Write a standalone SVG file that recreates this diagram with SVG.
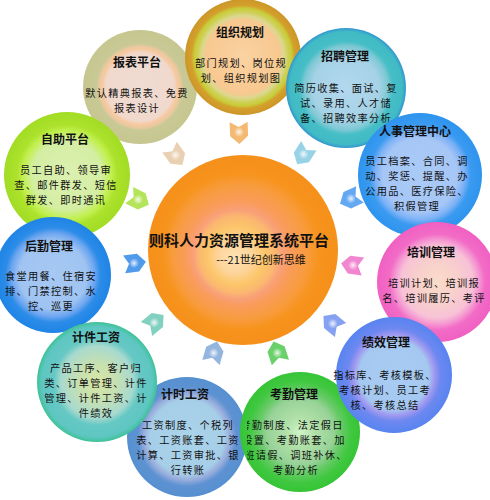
<svg xmlns="http://www.w3.org/2000/svg" width="490" height="500" viewBox="0 0 490 500">
<style>
text{font-family:"Noto Sans CJK SC","Noto Sans",sans-serif;fill:#111;text-anchor:middle}
.t{font-size:12px;font-weight:bold}
.b{font-size:10.2px;letter-spacing:1.3px}
.h{font-size:15px;font-weight:bold}
.s{font-size:11px}
.arr{opacity:0.85}
</style>
<defs>
<radialGradient id="gBB"><stop offset="0" stop-color="#F0DCD4"/><stop offset="0.6" stop-color="#F0D8CC"/><stop offset="0.66" stop-color="#F7C9A0"/><stop offset="0.72" stop-color="#E8C89E"/><stop offset="0.76" stop-color="#C9C996"/><stop offset="1" stop-color="#C6C690"/></radialGradient>
<radialGradient id="gZZ"><stop offset="0" stop-color="#FAD2A2"/><stop offset="0.64" stop-color="#F8C890"/><stop offset="0.71" stop-color="#DCD890"/><stop offset="0.78" stop-color="#CFD058"/><stop offset="0.84" stop-color="#C8CC38"/><stop offset="0.89" stop-color="#D4A02C"/><stop offset="1" stop-color="#CC9628"/></radialGradient>
<radialGradient id="gZP"><stop offset="0" stop-color="#B2D8EE"/><stop offset="0.55" stop-color="#A6D2E6"/><stop offset="0.7" stop-color="#7CC8D4"/><stop offset="0.78" stop-color="#46BEC6"/><stop offset="0.94" stop-color="#40BAC4"/><stop offset="1" stop-color="#3496D0"/></radialGradient>
<radialGradient id="gZZP"><stop offset="0" stop-color="#DCF0B0"/><stop offset="0.55" stop-color="#D4EEA4"/><stop offset="0.7" stop-color="#C2F050"/><stop offset="0.8" stop-color="#ACE22C"/><stop offset="1" stop-color="#A2DC24"/></radialGradient>
<radialGradient id="gRS"><stop offset="0" stop-color="#AACAF6"/><stop offset="0.6" stop-color="#A6C6F6"/><stop offset="0.72" stop-color="#7EB2F6"/><stop offset="0.82" stop-color="#3A9AF0"/><stop offset="1" stop-color="#2E94EE"/></radialGradient>
<radialGradient id="gHQ"><stop offset="0" stop-color="#A6C8F2"/><stop offset="0.58" stop-color="#A0C4F2"/><stop offset="0.72" stop-color="#6EA6F0"/><stop offset="0.82" stop-color="#2C8CE8"/><stop offset="1" stop-color="#1E84E6"/></radialGradient>
<radialGradient id="gPX"><stop offset="0" stop-color="#FADCC8"/><stop offset="0.35" stop-color="#F8CFCC"/><stop offset="0.6" stop-color="#F7C2D6"/><stop offset="0.7" stop-color="#F59AD2"/><stop offset="0.8" stop-color="#F26CC6"/><stop offset="1" stop-color="#F060C2"/></radialGradient>
<radialGradient id="gJJ"><stop offset="0" stop-color="#D8E6A6"/><stop offset="0.3" stop-color="#C8E0B0"/><stop offset="0.6" stop-color="#A8DACE"/><stop offset="0.72" stop-color="#66C8C4"/><stop offset="0.92" stop-color="#5EC6C2"/><stop offset="1" stop-color="#3EC296"/></radialGradient>
<radialGradient id="gJX"><stop offset="0" stop-color="#A8CCF2"/><stop offset="0.6" stop-color="#A4C8F0"/><stop offset="0.7" stop-color="#A098F0"/><stop offset="0.8" stop-color="#6E88F0"/><stop offset="1" stop-color="#5884F0"/></radialGradient>
<radialGradient id="gJS"><stop offset="0" stop-color="#AAD4EA"/><stop offset="0.62" stop-color="#A6CEE8"/><stop offset="0.72" stop-color="#98ACDC"/><stop offset="0.82" stop-color="#5E92D2"/><stop offset="1" stop-color="#5690D0"/></radialGradient>
<radialGradient id="gKQ"><stop offset="0" stop-color="#D0F4C8"/><stop offset="0.25" stop-color="#B0E0A8"/><stop offset="0.55" stop-color="#98D298"/><stop offset="0.7" stop-color="#64CA64"/><stop offset="0.85" stop-color="#40C840"/><stop offset="1" stop-color="#36C436"/></radialGradient>
<radialGradient id="gC" gradientUnits="userSpaceOnUse" cx="243" cy="250" r="95" fx="233" fy="258"><stop offset="0" stop-color="#FDE2B4"/><stop offset="0.18" stop-color="#FDD49A"/><stop offset="0.3" stop-color="#FCC66A"/><stop offset="0.4" stop-color="#FBB870"/><stop offset="0.47" stop-color="#F9A078"/><stop offset="0.55" stop-color="#F99C5C"/><stop offset="0.7" stop-color="#F89C40"/><stop offset="0.82" stop-color="#F7941E"/><stop offset="1" stop-color="#F5901A"/></radialGradient>
<radialGradient id="hl"><stop offset="0" stop-color="#fff" stop-opacity="0.85"/><stop offset="1" stop-color="#fff" stop-opacity="0"/></radialGradient>
<path id="ap" d="M-11,-9 L3,-9 L11,0 L3,9 L-11,9 L-6,0 Z"/>
<clipPath id="ckq"><rect x="247" y="370" width="120" height="130"/></clipPath>
</defs>
<rect width="490" height="500" fill="#fff"/>

<g id="baobiao">
<circle cx="140" cy="87" r="57" fill="url(#gBB)"/>
<text class="t" x="137" y="67">报表平台</text>
<text class="b" x="137" y="97">默认精典报表、免费</text>
<text class="b" x="137" y="112">报表设计</text>
</g>
<g id="zuzhi">
<circle cx="243" cy="57" r="58" fill="url(#gZZ)"/>
<text class="t" x="240" y="37">组织规划</text>
<text class="b" x="241" y="67">部门规划、岗位规</text>
<text class="b" x="241" y="82">划、组织规划图</text>
</g>
<g id="zhaopin">
<circle cx="346" cy="88" r="60" fill="url(#gZP)"/>
<text class="t" x="345" y="61">招聘管理</text>
<text class="b" x="346" y="92">简历收集、面试、复</text>
<text class="b" x="346" y="107">试、录用、人才储</text>
<text class="b" x="346" y="122">备、招聘效率分析</text>
</g>
<g id="renshi">
<circle cx="420" cy="175" r="62" fill="url(#gRS)"/>
<text class="t" x="415" y="136">人事管理中心</text>
<text class="b" x="417" y="165">员工档案、合同、调</text>
<text class="b" x="417" y="180">动、奖惩、提醒、办</text>
<text class="b" x="417" y="195">公用品、医疗保险、</text>
<text class="b" x="417" y="210">积假管理</text>
</g>
<g id="zizhu">
<circle cx="67" cy="175" r="63" fill="url(#gZZP)"/>
<text class="t" x="65" y="144">自助平台</text>
<text class="b" x="66" y="174">员工自助、领导审</text>
<text class="b" x="66" y="189">查、邮件群发、短信</text>
<text class="b" x="66" y="204">群发、即时通讯</text>
</g>
<g id="houqin">
<circle cx="53" cy="275" r="58" fill="url(#gHQ)"/>
<text class="t" x="49" y="251">后勤管理</text>
<text class="b" x="51" y="280">食堂用餐、住宿安</text>
<text class="b" x="51" y="295">排、门禁控制、水</text>
<text class="b" x="51" y="310">控、巡更</text>
</g>
<g id="peixun">
<circle cx="437" cy="282" r="60" fill="url(#gPX)"/>
<text class="t" x="431" y="257">培训管理</text>
<text class="b" x="434" y="287">培训计划、培训报</text>
<text class="b" x="434" y="302">名、培训履历、考评</text>
</g>
<g id="jishi">
<circle cx="187" cy="437" r="60" fill="url(#gJS)"/>
<text class="t" x="185" y="399">计时工资</text>
<text class="b" x="188" y="429">工资制度、个税列</text>
<text class="b" x="188" y="444">表、工资账套、工资</text>
<text class="b" x="188" y="459">计算、工资审批、银</text>
<text class="b" x="188" y="474">行转账</text>
</g>
<g id="jijian">
<circle cx="97" cy="382" r="60" fill="url(#gJJ)"/>
<text class="t" x="96" y="342">计件工资</text>
<text class="b" x="96" y="372">产品工序、客户归</text>
<text class="b" x="96" y="387">类、订单管理、计件</text>
<text class="b" x="96" y="402">管理、计件工资、计</text>
<text class="b" x="96" y="417">件绩效</text>
</g>
<g id="kaoqin">
<circle cx="300" cy="432" r="60" fill="url(#gKQ)"/>
<text class="t" x="294" y="399">考勤管理</text>
<g clip-path="url(#ckq)">
<text class="b" x="292" y="429">考勤制度、法定假日</text>
<text class="b" x="294" y="444">设置、考勤账套、加</text>
<text class="b" x="296" y="459">班请假、调班补休、</text>
</g>
<text class="b" x="296" y="474">考勤分析</text>
</g>
<g id="jixiao">
<circle cx="394" cy="375" r="58" fill="url(#gJX)"/>
<text class="t" x="386" y="347">绩效管理</text>
<text class="b" x="385" y="379">指标库、考核模板、</text>
<text class="b" x="385" y="394">考核计划、员工考</text>
<text class="b" x="385" y="409">核、考核总结</text>
</g>
<g id="center">
<circle cx="243" cy="250" r="95" fill="url(#gC)"/>
<text class="h" x="239" y="246">则科人力资源管理系统平台</text>
<text class="s" x="261" y="264">---21世纪创新思维</text>
</g>

<g id="connectors" class="arr">
<g transform="translate(176,156) rotate(54)"><use href="#ap" fill="#E6C8A6"/><circle cx="-1" r="5" fill="url(#hl)"/></g>
<g transform="translate(239,133) rotate(88)"><use href="#ap" fill="#F2AE5A"/><circle cx="-1" r="5" fill="url(#hl)"/></g>
<g transform="translate(303,155) rotate(122)"><use href="#ap" fill="#86CAE2"/><circle cx="-1" r="5" fill="url(#hl)"/></g>
<g transform="translate(139,200) rotate(26)"><use href="#ap" fill="#A6E03C"/><circle cx="-1" r="5" fill="url(#hl)"/></g>
<g transform="translate(350,199) rotate(155)"><use href="#ap" fill="#4898F0"/><circle cx="-1" r="5" fill="url(#hl)"/></g>
<g transform="translate(135,263) rotate(-7)"><use href="#ap" fill="#3088E8"/><circle cx="-1" r="5" fill="url(#hl)"/></g>
<g transform="translate(352,265) rotate(188)"><use href="#ap" fill="#F070C8"/><circle cx="-1" r="5" fill="url(#hl)"/></g>
<g transform="translate(155,322) rotate(-39)"><use href="#ap" fill="#6CC8B4"/><circle cx="-1" r="5" fill="url(#hl)"/></g>
<g transform="translate(332,323) rotate(219)"><use href="#ap" fill="#7090F0"/><circle cx="-1" r="5" fill="url(#hl)"/></g>
<g transform="translate(214,352) rotate(-74)"><use href="#ap" fill="#80A8D8"/><circle cx="-1" r="5" fill="url(#hl)"/></g>
<g transform="translate(277,352) rotate(252)"><use href="#ap" fill="#50C850"/><circle cx="-1" r="5" fill="url(#hl)"/></g>
</g>
</svg>
